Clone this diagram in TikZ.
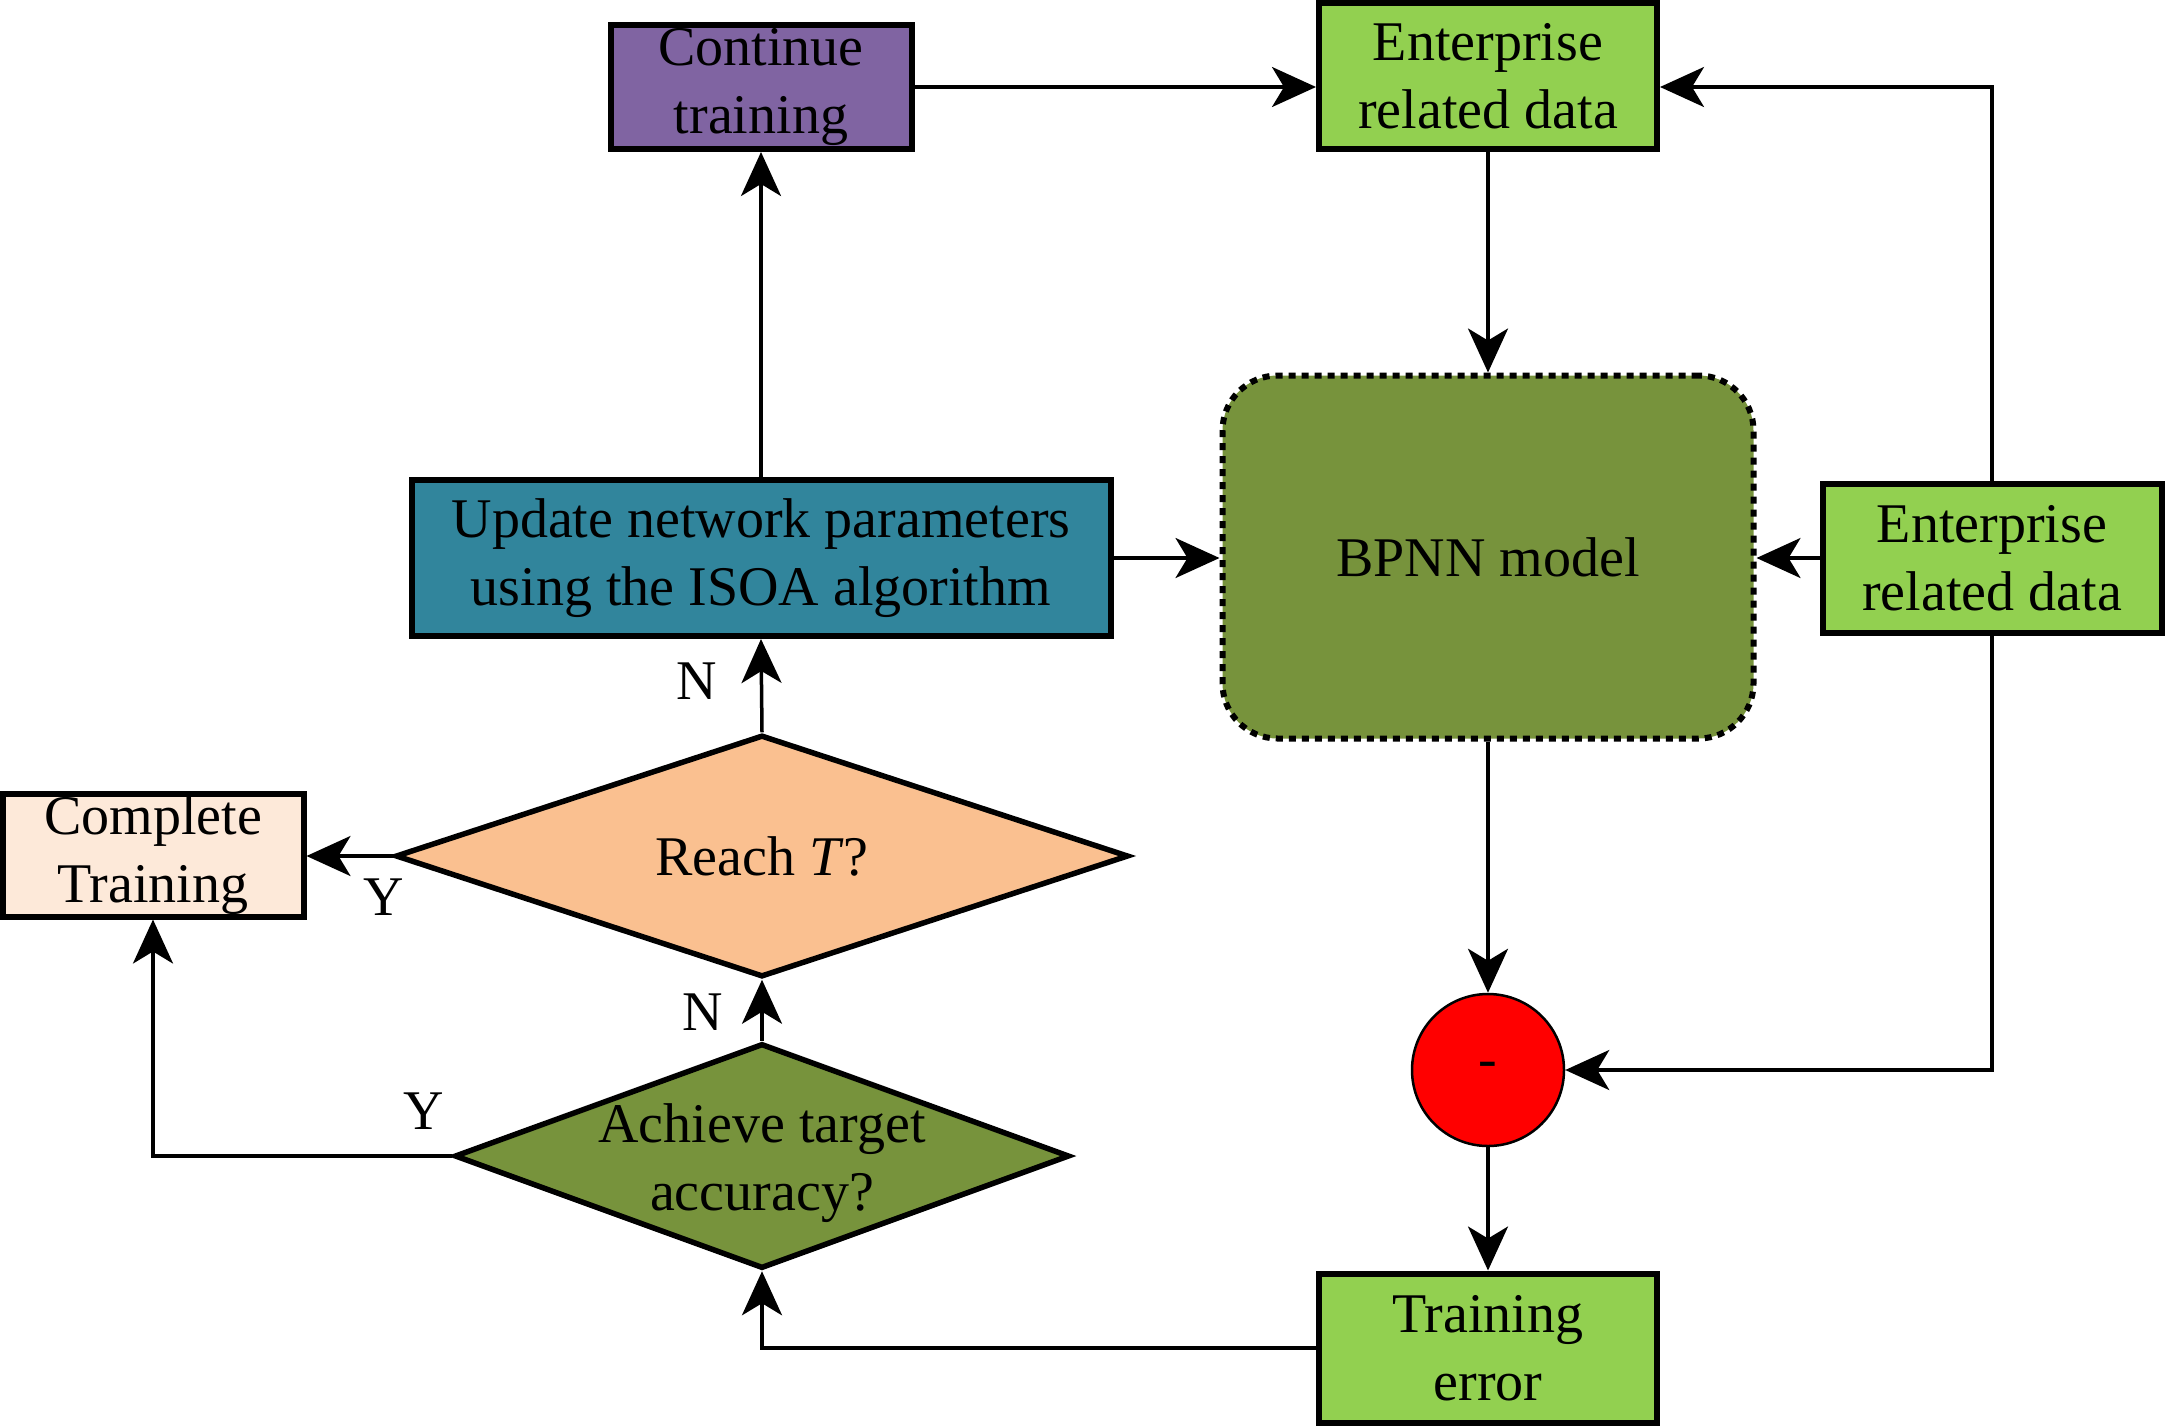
\documentclass[tikz,border=0pt]{standalone}
\usepackage{fontspec}
\setmainfont{Liberation Serif}
\usetikzlibrary{arrows.meta,shapes.geometric,calc}
\definecolor{cpurple}{HTML}{8064A2}
\definecolor{cteal}{HTML}{31859C}
\definecolor{cgreen}{HTML}{92D050}
\definecolor{colive}{HTML}{77933C}
\definecolor{cpeach}{HTML}{FAC090}
\definecolor{cpale}{HTML}{FDE9D9}
\begin{document}
\begin{tikzpicture}[x=1pt,y=-1pt,
  every node/.style={font=\fontsize{56}{68}\selectfont},
  box/.style={draw, line width=6pt, rectangle, inner sep=0pt, align=center},
  dia/.style={draw, line width=5.5pt, diamond, inner sep=0pt},
  conn/.style={line width=3.5pt, -{Stealth[length=44pt,width=40pt,inset=12pt]}},
  lbl/.style={inner sep=0pt}]
\useasboundingbox (0,0) rectangle (2165,1425);
% nodes
\node[box, fill=cpurple, minimum width=301pt, minimum height=124pt] (cont) at (761,87) {Continue\\training};
\node[box, fill=cgreen, minimum width=338pt, minimum height=146pt] (ent1) at (1488,76) {Enterprise\\related data};
\node[draw, line width=6pt, dash pattern=on 7pt off 6pt, rounded corners=55pt, fill=colive, minimum width=531pt, minimum height=363pt, inner sep=0pt] (bpnn) at (1488,557) {BPNN model};
\node[box, fill=cgreen, minimum width=339pt, minimum height=149pt] (ent2) at (1992,558) {Enterprise\\related data};
\node[box, fill=cteal, minimum width=699pt, minimum height=156pt] (upd) at (761,558) {Update network parameters\\using the ISOA algorithm};
\node[dia, fill=cpeach, minimum width=733pt, minimum height=242pt, label={center:Reach \textit{T}?}] (reach) at (762,856) {};
\node[box, fill=cpale, minimum width=301pt, minimum height=123pt] (comp) at (153,855) {Complete\\Training};
\node[dia, fill=colive, minimum width=615pt, minimum height=225pt, label={[align=center,yshift=-7pt]center:Achieve target\\accuracy?}] (ach) at (762,1156) {};
\node[draw, line width=2.5pt, circle, fill=red, minimum size=152pt, inner sep=0pt] (circ) at (1488,1070) {-};
\node[box, fill=cgreen, minimum width=338pt, minimum height=149pt] (terr) at (1488,1348) {Training\\error};
% labels
\node[lbl] (n1) at (697,681) {N};
\node[lbl] (y1) at (384,897) {Y};
\node[lbl] (n2) at (703,1012) {N};
\node[lbl] (y2) at (424,1111) {Y};
% connectors
\draw[conn] (cont.east) -- (cont.east -| ent1.west);
\draw[conn] (ent2.north) |- ([yshift=-11pt]ent1.east);
\draw[conn] (ent1.south) -- (bpnn.north);
\draw[conn] (ent2.west) -- (ent2.west -| bpnn.east);
\draw[conn] (ent2.south) |- (circ.east);
\draw[conn] (upd.east) -- (upd.east -| bpnn.west);
\draw[conn] (upd.north) -- (cont.south);
\draw[conn] (reach.north) -- (upd.south);
\draw[conn] (reach.west) -- (reach.west -| comp.east);
\draw[conn] (ach.north) -- (reach.south);
\draw[conn] (ach.west) -| (comp.south);
\draw[conn] (bpnn.south) -- (circ.north);
\draw[conn] (circ.south) -- (terr.north);
\draw[conn] (terr.west) -| (ach.south);
\end{tikzpicture}
\end{document}
